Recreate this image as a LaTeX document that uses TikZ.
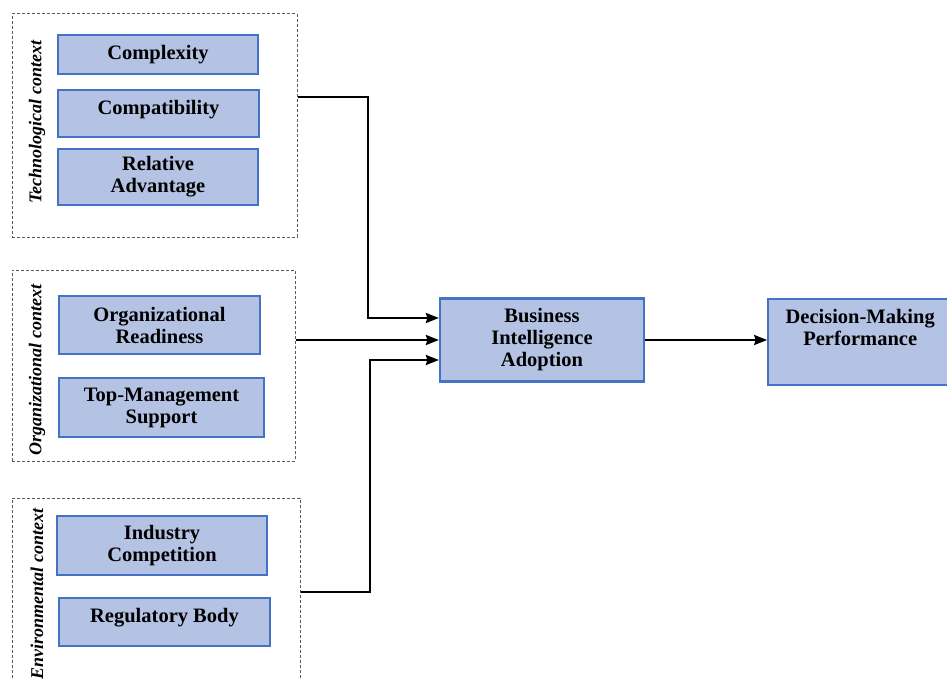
\documentclass[tikz,border=0pt]{standalone}
\usepackage{fontspec}
\setmainfont{Liberation Serif}
\usetikzlibrary{arrows.meta,positioning}

\definecolor{boxfill}{RGB}{180,194,228}
\definecolor{boxline}{RGB}{68,114,196}

\tikzset{
  factor/.style={draw=boxline, line width=2.2pt, fill=boxfill, align=center,
    font=\fontsize{20.5}{22}\selectfont\bfseries, inner sep=2pt},
  context/.style={draw=black!65, dash pattern=on 3pt off 2pt, line width=1pt},
  ctxlabel/.style={rotate=90, font=\fontsize{18}{21}\selectfont\bfseries\itshape},
  link/.style={draw=black, line width=2.2pt, -{Stealth[length=13pt,width=10pt,inset=1.5pt]}}
}

\begin{document}
\begin{tikzpicture}[x=1pt,y=-1pt]
\useasboundingbox (0,0) rectangle (947,679);

% context frames
\node[context, minimum width=285pt, minimum height=223pt] (tech) at (154.5,125.5) {};
\node[context, minimum width=283pt, minimum height=191pt] (org)  at (153.5,365.5) {};
\node[context, minimum width=288pt, minimum height=202pt] (env)  at (156,599)     {};

\node[ctxlabel] (techlabel) at (37,122) {Technological context};
\node[ctxlabel] (orglabel)  at (37,370) {Organizational context};
\node[ctxlabel] (envlabel)  at (37,594) {Environmental context};

% factors
\node[factor, minimum width=200pt, minimum height=39pt] (cplx) at (158,54.5)  {Complexity};
\node[factor, minimum width=201pt, minimum height=47pt, text depth=12pt] (cpat) at (158.5,113.5) {Compatibility};
\node[factor, minimum width=200pt, minimum height=56pt] (radv) at (158,177)   {Relative\\Advantage};
\node[factor, minimum width=201pt, minimum height=58pt] (ordy) at (159.5,325) {Organizational\\Readiness};
\node[factor, minimum width=205pt, minimum height=59pt] (tmsp) at (161.5,407.5) {Top-Management\\Support};
\node[factor, minimum width=210pt, minimum height=59pt] (icmp) at (162,545.5) {Industry\\Competition};
\node[factor, minimum width=211pt, minimum height=48pt, text depth=14pt] (rbdy) at (164.5,622) {Regulatory Body};

% outcome
\node[factor, minimum width=204pt, minimum height=83pt] (bia) at (542,340) {Business\\Intelligence\\Adoption};
\node[factor, minimum width=184pt, minimum height=86pt] (dmp) [right=122pt of bia.east, yshift=-2pt]
  {Decision-Making\\Performance\\\strut};

\coordinate (bendtech) at (368,318);
\coordinate (bendenv)  at (370,360);

\draw[link] ([yshift=28.5pt]tech.east) -| (bendtech) -- ([yshift=22pt]bia.west);
\draw[link] (org.east |- bia.west) -- (bia.west);
\draw[link] ([yshift=7pt]env.east) -| (bendenv) -- ([yshift=-20pt]bia.west);
\draw[link] (bia.east) -- (dmp.west |- bia.east);
\end{tikzpicture}
\end{document}
